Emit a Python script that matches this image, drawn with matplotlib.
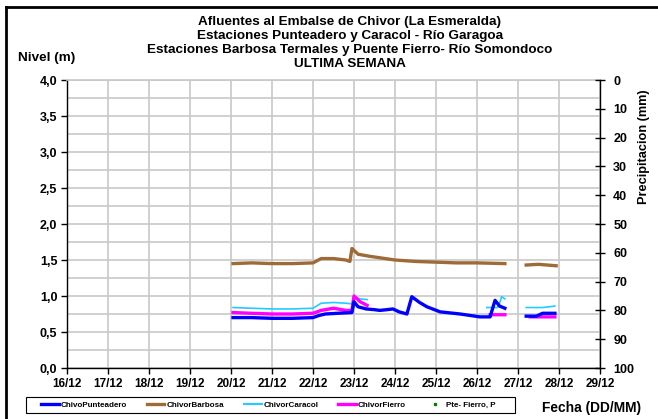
import matplotlib as mpl
mpl.use("Agg")
import matplotlib.pyplot as plt
import numpy as np
from matplotlib.lines import Line2D
from matplotlib.patches import Rectangle

# Days of December (fractional); NaN marks gaps in the record
punteadero_day = [20.05, 20.5, 21.0, 21.5, 22.0, 22.15, 22.3, 22.6, 22.95, 23.0, 23.1, 23.3,
                  23.5, 23.63, 23.8, 23.95, 24.1, 24.29, 24.41, 24.6, 24.78, 25.1, 25.59,
                  26.07, 26.32, 26.44, 26.55, 26.68, np.nan, 27.2, 27.45, 27.6, 27.9]
punteadero_lvl = [0.70, 0.70, 0.69, 0.69, 0.70, 0.73, 0.75, 0.76, 0.77, 0.92, 0.85, 0.82,
                  0.81, 0.80, 0.81, 0.82, 0.78, 0.75, 0.99, 0.91, 0.85, 0.78, 0.75,
                  0.71, 0.71, 0.94, 0.86, 0.83, np.nan, 0.72, 0.72, 0.76, 0.76]

barbosa_day = [20.05, 20.5, 21.0, 21.5, 22.0, 22.2, 22.5, 22.8, 22.9, 22.95, 23.1, 23.4,
               24.0, 24.5, 25.0, 25.5, 26.0, 26.68, np.nan, 27.2, 27.5, 27.93]
barbosa_lvl = [1.45, 1.46, 1.45, 1.45, 1.46, 1.52, 1.52, 1.50, 1.48, 1.66, 1.58, 1.55,
               1.50, 1.48, 1.47, 1.46, 1.46, 1.45, np.nan, 1.43, 1.44, 1.42]

caracol_day = [20.05, 20.5, 21.0, 21.5, 22.0, 22.2, 22.5, 22.8, 22.95, 23.0, 23.15, 23.32,
               np.nan, 26.24, 26.5, 26.55, 26.6, 26.68, np.nan, 27.2, 27.6, 27.9]
caracol_lvl = [0.84, 0.83, 0.82, 0.82, 0.83, 0.90, 0.91, 0.90, 0.89, 0.99, 0.96, 0.95,
               np.nan, 0.84, 0.84, 0.90, 0.99, 0.96, np.nan, 0.84, 0.84, 0.86]

fierro_day = [20.05, 20.5, 21.0, 21.5, 22.0, 22.2, 22.5, 22.8, 22.95, 23.0, 23.15, 23.32,
              np.nan, 26.32, 26.68, np.nan, 27.3, 27.9]
fierro_lvl = [0.77, 0.76, 0.75, 0.75, 0.76, 0.80, 0.83, 0.80, 0.80, 1.00, 0.92, 0.87,
              np.nan, 0.74, 0.74, np.nan, 0.71, 0.71]

# Pte. Fierro precipitation (mm): no readings this week
precip_day = []
precip_mm = []

day_ticks = list(range(16, 30))
title_lines = [
    "Afluentes al Embalse de Chivor (La Esmeralda)",
    "Estaciones Punteadero y Caracol - Río Garagoa",
    "Estaciones Barbosa Termales y Puente Fierro- Río Somondoco",
    "ULTIMA SEMANA",
]

plt.rcParams["font.family"] = ["Liberation Sans", "DejaVu Sans"]
plt.rcParams["font.weight"] = "bold"

W, H = 658, 419
fig = plt.figure(figsize=(W / 100, H / 100), dpi=100)
ax = fig.add_axes([67 / W, 1 - 368 / H, 533 / W, 288 / H])

grid_c = "#c8c8c8"
ax.plot(punteadero_day, punteadero_lvl, color="#0000ff", lw=2.4, label="ChivoPunteadero", zorder=5)
ax.plot(barbosa_day, barbosa_lvl, color="#9e6a35", lw=2.4, label="ChivorBarbosa", zorder=4)
ax.plot(caracol_day, caracol_lvl, color="#22ccff", lw=1.2, label="ChivorCaracol", zorder=3)
ax.plot(fierro_day, fierro_lvl, color="#ff00ff", lw=2.4, label="ChivorFierro", zorder=4)

ax.set_xlim(16, 29)
ax.set_ylim(0, 4)
ax.set_xticks(day_ticks)
ax.set_xticklabels([f"{d}/12" for d in day_ticks], fontsize=8.5, fontweight="bold")
ax.set_yticks(np.arange(0, 4.01, 0.5))
ax.set_yticklabels([f"{v:.1f}".replace(".", ",") for v in np.arange(0, 4.01, 0.5)],
                   fontsize=9, fontweight="bold")
ax.set_yticks(np.arange(0, 4.01, 0.25), minor=True)
ax.grid(True, which="both", color=grid_c, lw=1.2)
ax.set_axisbelow(True)
ax.tick_params(axis="both", which="major", length=4, width=1, color="black", pad=3)
ax.tick_params(axis="y", which="minor", length=0)
for side in ("left", "bottom"):
    ax.spines[side].set_color("black")
    ax.spines[side].set_linewidth(1)
ax.spines["top"].set_color(grid_c)
ax.spines["top"].set_linewidth(1.2)
ax.spines["right"].set_visible(False)

# Precipitation on an inverted secondary axis
ax2 = ax.twinx()
ax2.plot(precip_day, precip_mm, ls="none", marker="s", ms=2, color="#008000")
ax2.set_ylim(100, 0)
ax2.set_yticks(range(0, 101, 10))
ax2.set_yticklabels([str(v) for v in range(0, 101, 10)], fontsize=9, fontweight="bold")
ax2.tick_params(axis="y", direction="inout", length=7, width=1, pad=6)
for side in ("left", "top", "bottom"):
    ax2.spines[side].set_visible(False)
ax2.spines["right"].set_color("black")
ax2.spines["right"].set_linewidth(1)

fig.text(350 / W, 1 - 16 / H, "\n".join(title_lines), ha="center", va="top",
         fontsize=9.7, fontweight="bold", linespacing=1.22)
fig.text(18 / W, 1 - 58 / H, "Nivel (m)", ha="left", va="center", fontsize=9.7, fontweight="bold")
fig.text(644 / W, 1 - 147 / H, "Precipitacion (mm)", ha="center", va="center",
         rotation=90, fontsize=9.2, fontweight="bold")
fig.text(592 / W, 1 - 408 / H, "Fecha (DD/MM)", ha="center", va="center",
         fontsize=9.9, fontweight="bold")

handles = [
    Line2D([], [], color="#0000ff", lw=2.4),
    Line2D([], [], color="#9e6a35", lw=2.4),
    Line2D([], [], color="#22ccff", lw=1.5),
    Line2D([], [], color="#ff00ff", lw=2.4),
    Line2D([], [], ls="none", marker="s", ms=1.5, color="#008000"),
]
labels = ["ChivoPunteadero", "ChivorBarbosa", "ChivorCaracol", "ChivorFierro", "Pte- Fierro, P"]
fig.legend(handles, labels, loc="center", ncol=5,
           bbox_to_anchor=(268 / W, 1 - 405 / H), frameon=False,
           handlelength=2.2, handletextpad=0.25, columnspacing=2.45,
           borderpad=0.3, prop={"size": 5.8, "weight": "bold"})
# Legend box with wide side margins
fig.add_artist(Rectangle((26 / W, 1 - 413 / H), 489 / W, 16 / H, transform=fig.transFigure,
                         fill=False, edgecolor="black", lw=0.8))

# Outer black frame (left and top edges visible)
fig.add_artist(Line2D([6 / W, 6 / W], [0, 1 - 7 / H], color="black", lw=2,
                      transform=fig.transFigure))
fig.add_artist(Line2D([6 / W, 1], [1 - 7 / H, 1 - 7 / H], color="black", lw=2,
                      transform=fig.transFigure))

fig.savefig("out.png", dpi=100)
